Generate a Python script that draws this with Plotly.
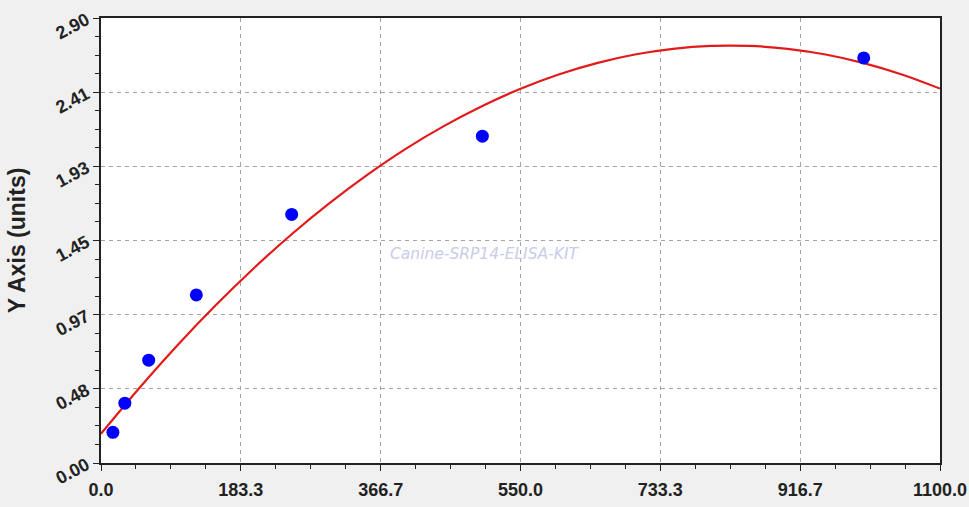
import plotly.graph_objects as go

# Standard points (concentration vs OD)
conc = [15.6, 31.25, 62.5, 125, 250, 500, 1000]
od = [0.20, 0.39, 0.67, 1.095, 1.62, 2.13, 2.64]

# Fitted curve
curve_x = [0, 50, 100, 150, 200, 250, 300, 350, 400, 450, 500, 550, 600, 650,
           700, 750, 800, 850, 900, 950, 1000, 1050, 1100]
curve_y = [0.190, 0.487, 0.766, 1.026, 1.268, 1.491, 1.695, 1.881, 2.049, 2.197,
           2.327, 2.439, 2.532, 2.606, 2.662, 2.699, 2.718, 2.718, 2.699, 2.662,
           2.606, 2.532, 2.440]

x_ticks = [0.0, 183.3, 366.7, 550.0, 733.3, 916.7, 1100.0]
x_labels = ['0.0', '183.3', '366.7', '550.0', '733.3', '916.7', '1100.0']
y_ticks = [0.0, 0.4833, 0.9667, 1.45, 1.9333, 2.4167, 2.90]
y_labels = ['0.00', '0.48', '0.97', '1.45', '1.93', '2.41', '2.90']

WIDTH = 969
HEIGHT = 507

fig = go.Figure()

fig.add_trace(go.Scatter(
    x=curve_x,
    y=curve_y,
    mode='lines',
    line=dict(color='#e31a1a', width=2.2, shape='spline'),
    showlegend=False,
    hoverinfo='skip'
))

fig.add_trace(go.Scatter(
    x=conc,
    y=od,
    mode='markers',
    marker=dict(color='#0000ff', size=13),
    showlegend=False
))

# watermark
fig.add_annotation(
    text='Canine-SRP14-ELISA-KIT',
    xref='paper', yref='paper',
    x=0.4565, y=0.47,
    showarrow=False,
    font=dict(family='DejaVu Sans', size=15.5, color='#c9cce8', style='italic')
)

axis_common = dict(
    showline=True,
    linecolor='#222222',
    linewidth=1.5,
    mirror=True,
    ticks='outside',
    ticklen=6,
    tickcolor='#222222',
    showgrid=True,
    gridcolor='#a4a4a4',
    griddash='4px,4px',
    gridwidth=1,
    zeroline=False,
    tickfont=dict(family='Liberation Sans', size=18, color='#222222', weight='bold'),
)

fig.update_layout(
    width=WIDTH,
    height=HEIGHT,
    margin=dict(l=101, r=29, t=18, b=44, autoexpand=False),
    paper_bgcolor='#f0f0f0',
    plot_bgcolor='#ffffff',
    xaxis=dict(
        axis_common,
        range=[0, 1100],
        tickmode='array',
        tickvals=x_ticks,
        ticktext=x_labels,
        ticklabelstandoff=4,
        minor=dict(ticks='outside', ticklen=4, tickcolor='#222222',
                   tickvals=[i * 1100 / 24 for i in range(25)], showgrid=False),
    ),
    yaxis=dict(
        axis_common,
        range=[0, 2.90],
        tickmode='array',
        tickvals=y_ticks,
        ticktext=y_labels,
        tickangle=-28,
        ticklabelstandoff=3,
        minor=dict(ticks='outside', ticklen=4, tickcolor='#222222',
                   tickvals=[i * 2.90 / 24 for i in range(25)], showgrid=False),
        title=dict(text='Y Axis (units)', standoff=20,
                   font=dict(family='Liberation Sans', size=23, color='#222222', weight='bold')),
    ),
)

fig.write_html('out.html', config={'displayModeBar': False},
               post_script="document.body.style.margin='0px';")
